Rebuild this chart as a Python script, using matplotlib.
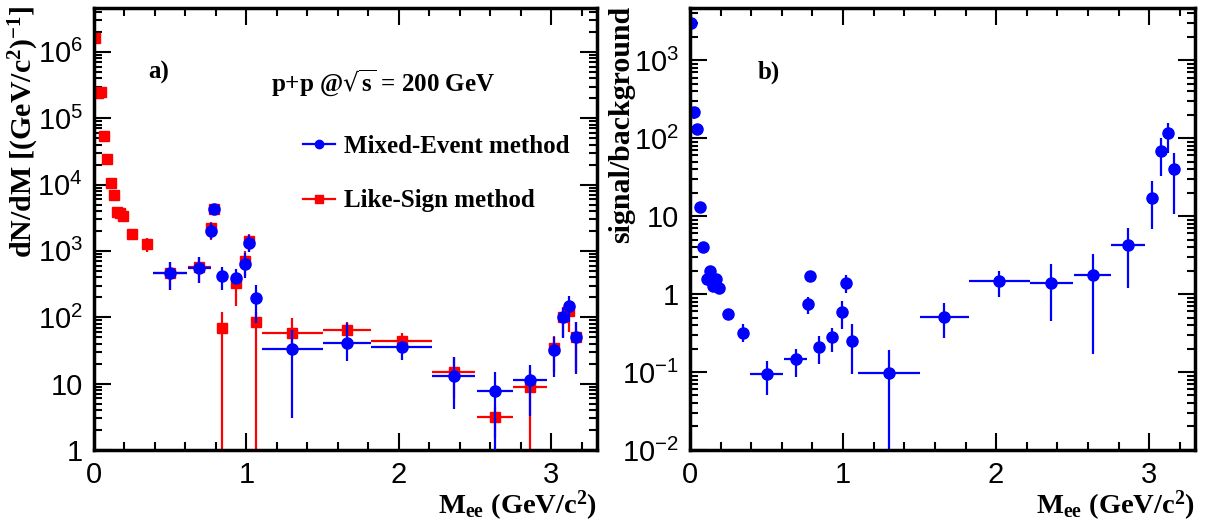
import numpy as np
import matplotlib.pyplot as plt
from matplotlib.lines import Line2D
from matplotlib.ticker import FuncFormatter, LogLocator

# ---- data ----
# like-sign method (left panel, red)
ls_x = [0.005, 0.025, 0.045, 0.065, 0.085, 0.11, 0.13, 0.15, 0.17, 0.19, 0.25, 0.345,
        0.5, 0.69, 0.77, 0.785, 0.84, 0.93, 0.99, 1.02, 1.06, 1.3, 1.66, 2.02, 2.36,
        2.63, 2.86, 3.02, 3.08, 3.12, 3.16]
ls_xerr = [0.0, 0.0, 0.0, 0.0, 0.0, 0.0, 0.0, 0.0, 0.0, 0.0, 0.03, 0.03,
           0.11, 0.075, 0.01, 0.01, 0.03, 0.03, 0.01, 0.01, 0.02, 0.2, 0.16, 0.2, 0.14,
           0.12, 0.11, 0.03, 0.01, 0.01, 0.01]
ls_y = [1.6e6, 2.4e5, 2.5e5, 5.3e4, 2.4e4, 1.05e4, 6.9e3, 3.9e3, 3.7e3, 3.4e3, 1.8e3, 1.25e3,
        470, 580, 2200, 4300, 68, 330, 700, 1400, 85, 57, 65, 44, 15,
        3.1, 8.9, 34, 100, 123, 50]
ls_lo = [1.5e6, 2.2e5, 2.3e5, 4.9e4, 2.2e4, 9.5e3, 6.2e3, 3.4e3, 3.2e3, 2.9e3, 1.5e3, 950,
         260, 330, 1450, 3900, 0.1, 148, 420, 950, 0.1, 33, 45, 34, 6,
         1.5, 0.1, 15, 50, 60, 15]
ls_hi = [1.7e6, 2.6e5, 2.7e5, 5.7e4, 2.6e4, 1.15e4, 7.6e3, 4.4e3, 4.2e3, 3.9e3, 2.1e3, 1550,
         680, 820, 2750, 4800, 120, 450, 1000, 1800, 120, 98, 85, 57, 25,
         4.5, 16, 52, 145, 180, 85]

# mixed-event method (left panel, blue)
me_x = [0.5, 0.69, 0.77, 0.785, 0.84, 0.93, 0.99, 1.02, 1.06, 1.3, 1.66, 2.02, 2.36,
        2.63, 2.86, 3.02, 3.08, 3.12, 3.16]
me_xerr = [0.11, 0.075, 0.01, 0.01, 0.03, 0.03, 0.01, 0.01, 0.02, 0.2, 0.16, 0.2, 0.14,
           0.12, 0.11, 0.03, 0.01, 0.01, 0.01]
me_y = [470, 550, 2000, 4300, 420, 390, 630, 1320, 195, 33, 41, 35, 13,
        7.8, 11.3, 32, 100, 148, 50]
me_lo = [257, 330, 1500, 3900, 257, 316, 390, 950, 81, 3.0, 22, 23, 4.2,
         0.5, 3.2, 12.6, 49, 85, 14]
me_hi = [680, 810, 2600, 4800, 575, 535, 940, 1750, 310, 65, 81, 43, 25,
         15, 19, 50, 140, 210, 85]

# signal / background (right panel)
sb_x = ls_x
sb_xerr = ls_xerr
sb_y = [3000, 215, 130, 13, 4.0, 1.55, 2.0, 1.26, 1.55, 1.19, 0.55, 0.32,
        0.095, 0.145, 0.74, 1.7, 0.21, 0.28, 0.59, 1.4, 0.25, 0.098, 0.51, 1.45, 1.4,
        1.74, 4.2, 17, 68, 115, 40]
sb_lo = [2100, 178, 118, 11.5, 3.6, 1.35, 1.75, 1.05, 1.3, 1.0, 0.5, 0.24,
         0.051, 0.087, 0.55, 1.6, 0.126, 0.18, 0.36, 1.02, 0.095, 0.001, 0.27, 0.93, 0.45,
         0.17, 1.2, 6.9, 33, 65, 10.7]
sb_hi = [4000, 245, 145, 14.5, 4.4, 1.75, 2.25, 1.5, 1.8, 1.4, 0.62, 0.41,
         0.14, 0.2, 0.91, 1.8, 0.29, 0.37, 0.81, 1.74, 0.41, 0.19, 0.76, 1.95, 2.4,
         3.3, 7.1, 28, 100, 158, 65]

plt.rcParams['font.family'] = ['Liberation Sans', 'DejaVu Sans']
plt.rcParams['mathtext.default'] = 'regular'

serif_b = dict(family='Liberation Serif', weight='bold')


def yerr(y, lo, hi):
    y = np.array(y)
    return [y - np.array(lo), np.array(hi) - y]


def log_label(v, pos):
    k = int(round(np.log10(v)))
    if k == 0:
        return '1'
    if k == 1:
        return '10'
    return r'$10^{%d}$' % k


def style_axes(ax, ylim):
    ax.set_yscale('log')
    ax.set_xlim(0, 3.3)
    ax.set_ylim(*ylim)
    ax.set_xticks([0, 1, 2, 3])
    ax.set_xticks(np.arange(0, 3.31, 0.2), minor=True)
    ax.yaxis.set_major_locator(LogLocator(base=10, numticks=20))
    ax.yaxis.set_minor_locator(LogLocator(base=10, subs=np.arange(2, 10), numticks=20))
    ax.yaxis.set_major_formatter(FuncFormatter(log_label))
    ax.tick_params(which='both', direction='in', top=True, right=True, width=1.5,
                   labelsize=21, pad=8)
    ax.tick_params(which='major', length=12)
    ax.tick_params(which='minor', length=6)
    for sp in ax.spines.values():
        sp.set_linewidth(2.5)


fig = plt.figure(figsize=(12.14, 5.25), dpi=100)
ax1 = fig.add_axes([0.0774, 0.143, 0.4143, 0.842])
ax2 = fig.add_axes([0.5684, 0.143, 0.416, 0.842])

# left panel
ax1.errorbar(ls_x, ls_y, xerr=ls_xerr, yerr=yerr(ls_y, ls_lo, ls_hi), fmt='s',
             color='red', ms=6.5, elinewidth=1.6, capsize=0, zorder=2)
ax1.errorbar(me_x, me_y, xerr=me_xerr, yerr=yerr(me_y, me_lo, me_hi), fmt='o',
             color='blue', ms=8, elinewidth=1.6, capsize=0, zorder=3)
style_axes(ax1, (1, 4.6e6))
ax1.set_ylabel(r'dN/dM [(GeV/c$^{2}$)$^{-1}$]', fontsize=21.5, loc='top', **serif_b)
ax1.yaxis.set_label_coords(-0.106, 1.005)
ax1.set_xlabel(r'M$_{ee}$ (GeV/c$^{2}$)', fontsize=20.5, loc='right', labelpad=0, **serif_b)
ax1.text(0.107, 0.855, 'a)', transform=ax1.transAxes, fontsize=18, va='center', **serif_b)
ax1.text(0.352, 0.83, r'p+p @$\sqrt{s}$ = 200 GeV', transform=ax1.transAxes, fontsize=18,
         va='center', **serif_b)
handles = [Line2D([], [], color='blue', marker='o', ms=6, lw=1.6),
           Line2D([], [], color='red', marker='s', ms=5.5, lw=1.6)]
ax1.legend(handles, ['Mixed-Event method', 'Like-Sign method'], loc='upper left',
           bbox_to_anchor=(0.38, 0.752), frameon=False,
           prop=dict(family='Liberation Serif', weight='bold', size=18),
           labelspacing=1.25, handlelength=1.3, handletextpad=0.35, borderpad=0.2)

# right panel
ax2.errorbar(sb_x, sb_y, xerr=sb_xerr, yerr=yerr(sb_y, sb_lo, sb_hi), fmt='o',
             color='blue', ms=8, elinewidth=1.6, capsize=0)
style_axes(ax2, (0.01, 4.7e3))
ax2.set_ylabel('signal/background', fontsize=21.5, loc='top', **serif_b)
ax2.yaxis.set_label_coords(-0.108, 1.005)
ax2.set_xlabel(r'M$_{ee}$ (GeV/c$^{2}$)', fontsize=20.5, loc='right', labelpad=0, **serif_b)
ax2.text(0.133, 0.855, 'b)', transform=ax2.transAxes, fontsize=18, va='center', **serif_b)

fig.savefig('out.png', dpi=100)
